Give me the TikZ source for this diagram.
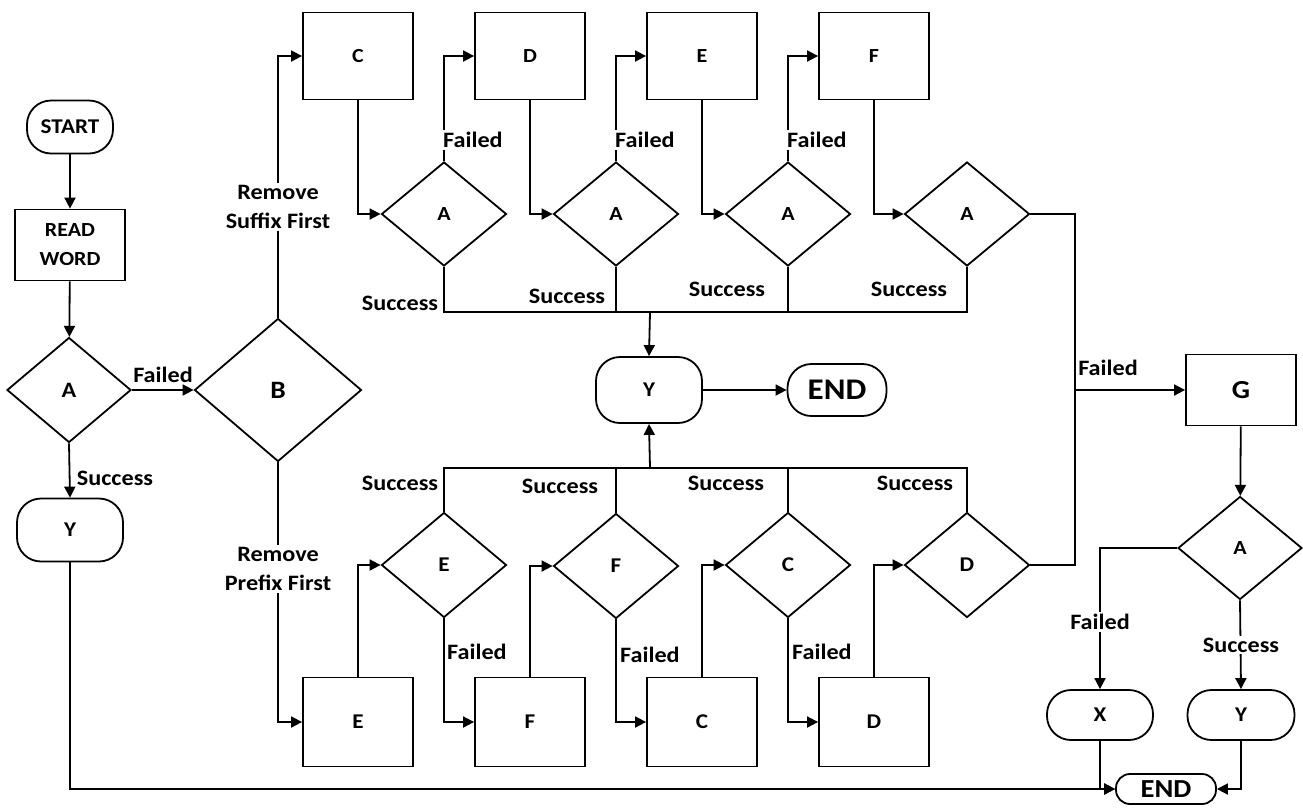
\documentclass[tikz,border=0pt]{standalone}
\usepackage{fontspec}
\setmainfont{Carlito}[FakeStretch=1.1]
\usetikzlibrary{shapes.geometric,arrows.meta}

\newcommand{\fsz}[1]{\fontsize{#1}{29}\selectfont}

\tikzset{
    every node/.style={inner sep=0pt, align=center},
    proc/.style={draw, line width=1.8pt, minimum width=110pt, minimum height=87pt, font=\bfseries\fsz{20}},
    decide/.style={draw, diamond, line width=1.8pt, minimum width=125pt, minimum height=104pt, font=\bfseries\fsz{20}},
    term/.style={draw, rectangle, rounded corners=24pt, line width=1.8pt, minimum width=106pt, minimum height=63pt, font=\bfseries\fsz{21}},
    flow/.style={line width=1.8pt},
    arr/.style={line width=1.8pt, -{Triangle[length=11pt,width=11pt]}},
    lbl/.style={font=\bfseries\fsz{22}, inner sep=2pt},
    cover/.style={lbl, fill=white}
}

\begin{document}
\begin{tikzpicture}[x=1pt,y=-1pt]
    \useasboundingbox (0,0) rectangle (1303,807);

    % Left column
    \node[term, minimum width=86pt, minimum height=53pt] (start) at (70,127) {START};
    \node[proc, minimum height=71pt] (read) at (70,245) {READ\\WORD};
    \node[decide, minimum width=124pt, minimum height=105pt, font=\bfseries\fsz{22}] (a0) at (69,390) {A};
    \node[term] (y0) at (70,530) {Y};
    \node[decide, minimum width=167pt, minimum height=143pt, font=\bfseries\fsz{25}] (b) at (278,390) {B};

    % Top row: remove suffix first
    \node[proc] (c1) at (358,56) {C};
    \node[proc] (d1) at (530,56) {D};
    \node[proc] (e1) at (702,56) {E};
    \node[proc] (f1) at (874,56) {F};
    \node[decide] (ta1) at (444,214) {A};
    \node[decide] (ta2) at (616,214) {A};
    \node[decide] (ta3) at (788,214) {A};
    \node[decide] (ta4) at (967,214) {A};

    % Bottom row: remove prefix first
    \node[proc, minimum height=89pt, font=\bfseries\fsz{21}] (be) at (358,722) {E};
    \node[proc, minimum height=89pt, font=\bfseries\fsz{21}] (bf) at (530,722) {F};
    \node[proc, minimum height=89pt, font=\bfseries\fsz{21}] (bc) at (702,722) {C};
    \node[proc, minimum height=89pt, font=\bfseries\fsz{21}] (bd) at (874,722) {D};
    \node[decide, minimum height=105pt, font=\bfseries\fsz{21}] (de) at (444,565) {E};
    \node[decide, minimum height=105pt, font=\bfseries\fsz{21}] (df) at (616,566) {F};
    \node[decide, minimum height=105pt, font=\bfseries\fsz{21}] (dc) at (788,565) {C};
    \node[decide, minimum height=105pt, font=\bfseries\fsz{21}] (dd) at (967,565) {D};

    % Middle
    \node[term, minimum height=66pt] (ym) at (649,390) {Y};
    \node[term, minimum width=99pt, minimum height=52pt, font=\bfseries\fsz{30}] (endm) at (837,390) {END};

    % Right column
    \node[proc, minimum height=71pt, font=\bfseries\fsz{26}] (g) at (1241,390) {G};
    \node[decide, minimum width=124pt, minimum height=103pt] (ga) at (1240,548) {A};
    \node[term, minimum height=50pt] (x) at (1100,715) {X};
    \node[term, minimum width=107pt, minimum height=50pt] (yr) at (1241,715) {Y};
    \node[term, rounded corners=14pt, minimum width=100pt, minimum height=30pt, font=\bfseries\fsz{26}] (endb) at (1166,789) {END};

    % Bus points
    \coordinate (bustop) at (650,312);
    \coordinate (busbot) at (650,468);
    \coordinate (rbus) at (1075,390);

    % Left connectors
    \draw[arr] (start) -- (read);
    \draw[arr] (read) -- (a0);
    \draw[arr] (a0.east) -- (b.west);
    \draw[arr] (a0.south) -- (y0.north);
    \draw[arr] (y0.south) |- (endb.west);
    \node[lbl] (lfail) at (163,375) {Failed};
    \node[lbl] (lsucc) at (115,478) {Success};

    % Suffix / prefix branches
    \draw[arr] (b.north) |- (c1.west);
    \draw[arr] (b.south) |- (be.west);
    \node[cover] (lsuffix) at (278,207) {Remove\\Suffix First};
    \node[cover] (lprefix) at (278,569) {Remove\\Prefix First};

    % Top row connectors
    \draw[arr] (c1.south) |- (ta1.west);
    \draw[arr] (d1.south) |- (ta2.west);
    \draw[arr] (e1.south) |- (ta3.west);
    \draw[arr] (f1.south) |- (ta4.west);
    \draw[arr] (ta1.north) |- (d1.west);
    \draw[arr] (ta2.north) |- (e1.west);
    \draw[arr] (ta3.north) |- (f1.west);
    \node[cover, anchor=west] (tf1) at (441,140) {Failed};
    \node[cover, anchor=west] (tf2) at (613,140) {Failed};
    \node[cover, anchor=west] (tf3) at (785,140) {Failed};
    \draw[flow] (ta1.south) |- (bustop) -| (ta4.south);
    \draw[flow] (ta2.south) -- (ta2.south |- bustop);
    \draw[flow] (ta3.south) -- (ta3.south |- bustop);
    \draw[arr] (bustop) -- (ym.north);
    \node[lbl] (ts1) at (400,303) {Success};
    \node[lbl] (ts2) at (567,296) {Success};
    \node[lbl] (ts3) at (727,289) {Success};
    \node[lbl] (ts4) at (909,289) {Success};

    % Bottom row connectors
    \draw[arr] (be.north) |- (de.west);
    \draw[arr] (bf.north) |- (df.west);
    \draw[arr] (bc.north) |- (dc.west);
    \draw[arr] (bd.north) |- (dd.west);
    \draw[arr] (de.south) |- (bf.west);
    \draw[arr] (df.south) |- (bc.west);
    \draw[arr] (dc.south) |- (bd.west);
    \node[lbl, anchor=west] (bf1) at (445,652) {Failed};
    \node[lbl, anchor=west] (bf2) at (618,655) {Failed};
    \node[lbl, anchor=west] (bf3) at (790,652) {Failed};
    \draw[flow] (de.north) |- (busbot) -| (dd.north);
    \draw[flow] (df.north) -- (df.north |- busbot);
    \draw[flow] (dc.north) -- (dc.north |- busbot);
    \draw[arr] (busbot) -- (ym.south);
    \node[lbl] (bs1) at (400,483) {Success};
    \node[lbl] (bs2) at (560,486) {Success};
    \node[lbl] (bs3) at (726,483) {Success};
    \node[lbl] (bs4) at (915,483) {Success};

    \draw[arr] (ym) -- (endm);

    % Right connectors
    \draw[flow] (ta4.east) -| (rbus) |- (dd.east);
    \draw[arr] (rbus) -- (g.west);
    \node[lbl] (gfail) at (1108,368) {Failed};
    \draw[arr] (g) -- (ga);
    \draw[arr] (ga.west) -| (x.north);
    \draw[arr] (ga.south) -- (yr.north);
    \node[cover] (xfail) at (1100,622) {Failed};
    \node[cover] (ysucc) at (1241,645) {Success};
    \draw[arr] (x.south) |- (endb.west);
    \draw[arr] (yr.south) |- (endb.east);
\end{tikzpicture}
\end{document}
